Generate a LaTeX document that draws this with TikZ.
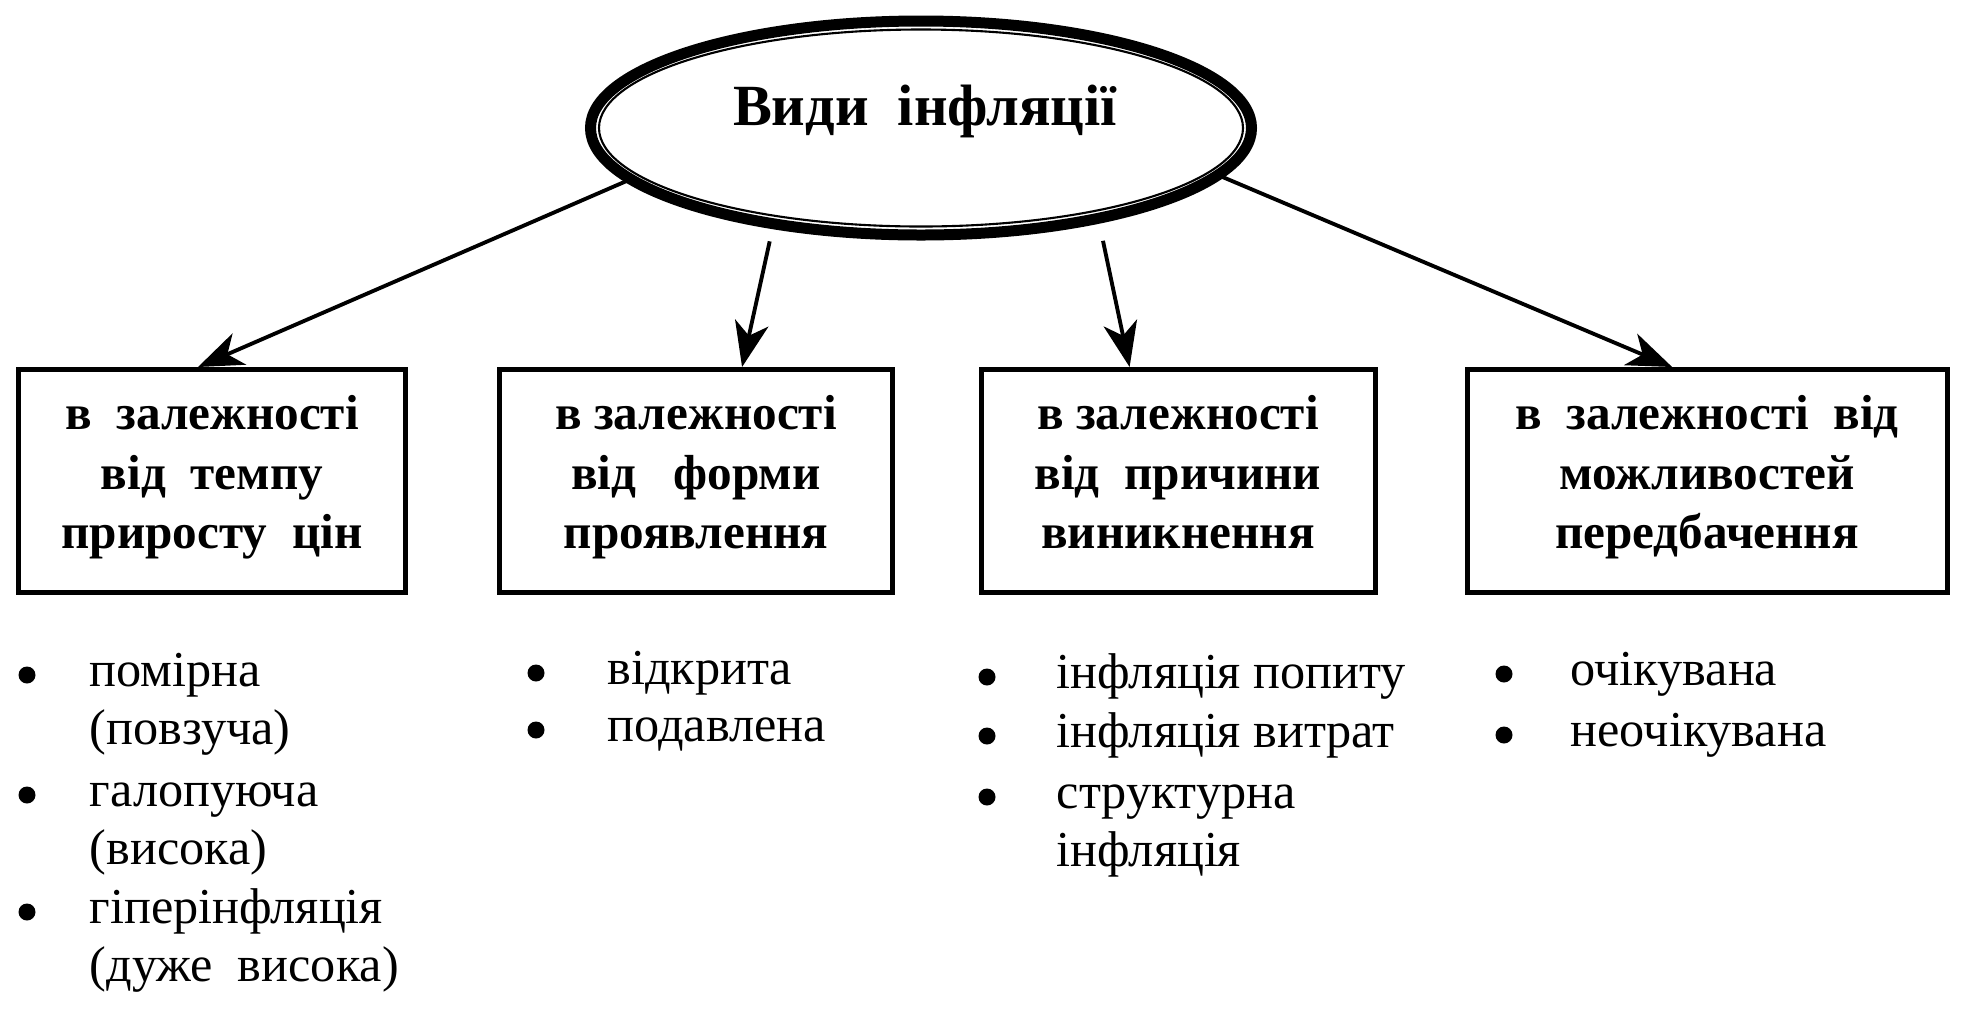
\documentclass[tikz,border=0pt]{standalone}
\usepackage{fontspec}
\setmainfont{Liberation Serif}
\usetikzlibrary{shapes.geometric,arrows.meta}

\begin{document}
\begin{tikzpicture}

        \useasboundingbox (0,0) rectangle (19.74,-10.24);

        % main oval
        \node[ellipse,draw,line width=0.11cm,minimum width=6.61cm,minimum height=2.14cm,
              inner sep=0pt,outer sep=0pt] (vydy) at (9.21,-1.28) {};
        \draw[line width=0.6pt] (vydy.center) ellipse [x radius=3.22cm,y radius=0.985cm];
        \node[anchor=base,font=\fontsize{16.6}{20}\selectfont\bfseries] (title) at (9.25,-1.25) {Види~~інфляції};

        \begin{scope}[every node/.style={rectangle,draw,line width=0.05cm,minimum height=2.23cm,
                      align=center,font=\fontsize{14}{17}\selectfont\bfseries,
                      execute at begin node=\strut,execute at end node=\strut}]
          \node[minimum width=3.87cm] (tempu)    at (2.12,-4.81)  {в~~залежності\\від~~темпу\\приросту~~цін};
          \node[minimum width=3.93cm] (formy)    at (6.96,-4.81)  {в залежності\\від~~~форми\\проявлення};
          \node[minimum width=3.94cm] (prychyny) at (11.78,-4.81) {в залежності\\від~~причини\\виникнення};
          \node[minimum width=4.80cm] (peredb)   at (17.07,-4.81) {в~~залежності~~від\\можливостей\\передбачення};
        \end{scope}

        \begin{scope}[every edge/.style={draw,line width=1.1pt,-{Stealth[length=0.45cm,width=0.34cm,inset=0.13cm]}}]
          \path (vydy.190) edge (tempu.97);
          \path (vydy.213) edge[shorten <=0.18cm] (formy.68);
          \path (vydy.333) edge[shorten <=0.23cm] (prychyny.113);
          \path (vydy.351) edge (peredb.107);
        \end{scope}

        \begin{scope}[every node/.style={circle,fill,inner sep=0pt,minimum size=0.17cm}]
          \node (d1)  at (0.27,-6.75)  {};
          \node (d2)  at (0.27,-7.95)  {};
          \node (d3)  at (0.27,-9.12)  {};
          \node (d4)  at (5.36,-6.73)  {};
          \node (d5)  at (5.36,-7.30)  {};
          \node (d6)  at (9.87,-6.77)  {};
          \node (d7)  at (9.87,-7.36)  {};
          \node (d8)  at (9.87,-7.97)  {};
          \node (d9)  at (15.04,-6.74) {};
          \node (d10) at (15.04,-7.35) {};
        \end{scope}

        \begin{scope}[every node/.style={anchor=base west,inner sep=0pt,font=\fontsize{14.3}{17}\selectfont}]
          \node (pomirna)  at (0.89,-6.86)  {помірна};
          \node (povzucha) at (0.89,-7.44)  {(повзуча)};
          \node (halop)    at (0.89,-8.06)  {галопуюча};
          \node (vysoka)   at (0.89,-8.64)  {(висока)};
          \node (hiper)    at (0.89,-9.23)  {гіперінфляція};
          \node (duzhe)    at (0.89,-9.81)  {(дуже~~висока)};
          \node (vidkr)    at (6.07,-6.84)  {відкрита};
          \node (podavl)   at (6.07,-7.41)  {подавлена};
          \node (popytu)   at (10.56,-6.88) {інфляція попиту};
          \node (vytrat)   at (10.56,-7.47) {інфляція витрат};
          \node (strukt)   at (10.56,-8.08) {структурна};
          \node (strukt2)  at (10.56,-8.66) {інфляція};
          \node (ochik)    at (15.70,-6.85) {очікувана};
          \node (neochik)  at (15.70,-7.46) {неочікувана};
        \end{scope}

\end{tikzpicture}
\end{document}
